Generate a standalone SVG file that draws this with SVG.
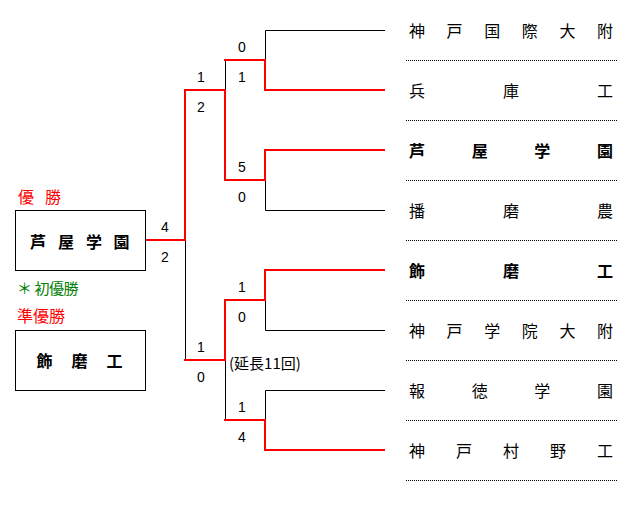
<svg xmlns="http://www.w3.org/2000/svg" width="635" height="505" viewBox="0 0 635 505">
<style>
.bk{fill:none;stroke:#000;stroke-width:1}
.rd{fill:none;stroke:#f00;stroke-width:2}
.dot{stroke:#000;stroke-width:1;stroke-dasharray:1 1}
.box{fill:#fff;stroke:#000;stroke-width:1}
.sc{font-family:"Liberation Sans",Arial,sans-serif;font-size:14px;fill:#000;text-anchor:middle}
.jp{font-family:"Noto Sans CJK JP","Noto Sans CJK SC",sans-serif;font-size:16px;fill:#000;dominant-baseline:central}
.b{font-weight:bold}
.red{fill:#f00}
.grn{fill:#008000}
</style>
<rect width="635" height="505" fill="#fff"/>
<g id="connectors">
<path class="bk" d="M265.5,30.5 H385 M265.5,30.5 V60 M265.5,180 V210.5 H385 M225.5,60 V90 M185.5,240 V360 M265.5,300 V330.5 H385 M385,390.5 H265.5 V420 M225.5,360 V420"/>
<path class="rd" d="M385,90 H265 V60 H224"/>
<path class="rd" d="M385,150 H265 V180 H224"/>
<path class="rd" d="M225,180 V90 H185 V240 H145"/>
<path class="rd" d="M385,270 H265 V300 H225 V360 H184"/>
<path class="rd" d="M385,450 H265 V420 H224"/>
</g>
<g id="scores">
<text class="sc" x="242" y="52">0</text>
<text class="sc" x="242" y="82">1</text>
<text class="sc" x="201" y="82">1</text>
<text class="sc" x="201" y="112">2</text>
<text class="sc" x="242" y="172">5</text>
<text class="sc" x="242" y="202">0</text>
<text class="sc" x="165" y="232">4</text>
<text class="sc" x="165" y="262">2</text>
<text class="sc" x="242" y="292">1</text>
<text class="sc" x="242" y="322">0</text>
<text class="sc" x="201" y="352">1</text>
<text class="sc" x="201" y="382">0</text>
<text class="sc" x="242" y="412">1</text>
<text class="sc" x="242" y="442">4</text>
<text class="jp" x="229" y="362" style="font-size:15px">(延長11回)</text>
</g>
<g id="team1"><text class="jp" x="409 446.6 484.2 521.8 559.4 597" y="30">神戸国際大附</text><line class="dot" x1="406" y1="60.5" x2="617" y2="60.5"/></g>
<g id="team2"><text class="jp" x="409 503 597" y="90">兵庫工</text><line class="dot" x1="406" y1="120.5" x2="617" y2="120.5"/></g>
<g id="team3"><text class="jp b" x="409 471.7 534.3 597" y="150">芦屋学園</text><line class="dot" x1="406" y1="180.5" x2="617" y2="180.5"/></g>
<g id="team4"><text class="jp" x="409 503 597" y="210">播磨農</text><line class="dot" x1="406" y1="240.5" x2="617" y2="240.5"/></g>
<g id="team5"><text class="jp b" x="409 503 597" y="270">飾磨工</text><line class="dot" x1="406" y1="300.5" x2="617" y2="300.5"/></g>
<g id="team6"><text class="jp" x="409 446.6 484.2 521.8 559.4 597" y="330">神戸学院大附</text><line class="dot" x1="406" y1="360.5" x2="617" y2="360.5"/></g>
<g id="team7"><text class="jp" x="409 471.7 534.3 597" y="390">報徳学園</text><line class="dot" x1="406" y1="420.5" x2="617" y2="420.5"/></g>
<g id="team8"><text class="jp" x="409 456 503 550 597" y="450">神戸村野工</text><line class="dot" x1="406" y1="480.5" x2="617" y2="480.5"/></g>
<g id="champion">
<text class="jp red" x="18 45" y="196">優勝</text>
<rect class="box" x="15.5" y="210.5" width="130" height="60"/>
<text class="jp b" x="30 58 86 113.5" y="241">芦屋学園</text>
<text class="jp grn" x="17 34.5 49 63.5" y="287" style="font-size:15px">＊初優勝</text>
</g>
<g id="runnerup">
<text class="jp red" x="17" y="315">準優勝</text>
<rect class="box" x="15.5" y="330.5" width="130" height="60"/>
<text class="jp b" x="36.5 71.5 106.5" y="360">飾磨工</text>
</g>
</svg>
